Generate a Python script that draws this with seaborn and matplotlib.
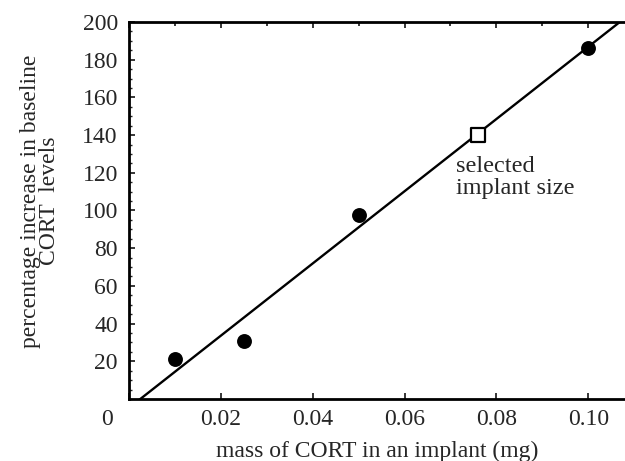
import matplotlib.pyplot as plt
import matplotlib.ticker as ticker
import matplotlib.transforms as mtransforms
import pandas as pd
import seaborn as sns

# measured implants
mass = [0.010, 0.025, 0.050, 0.100]
increase = [21, 31, 97.5, 186]

# chosen implant
selected_mass = [0.076]
selected_increase = [140]

x_ticks = [0, 0.02, 0.04, 0.06, 0.08, 0.10]
x_tick_labels = ["0", "0.02", "0.04", "0.06", "0.08", "0.10"]
y_ticks = [20, 40, 60, 80, 100, 120, 140, 160, 180, 200]

df = pd.DataFrame({"mass": mass, "increase": increase})

sns.set_style("ticks")
plt.rcParams["font.family"] = ["Liberation Serif", "DejaVu Serif"]
plt.rcParams["font.size"] = 17

fig = plt.figure(figsize=(6.25, 4.61), dpi=100)
ax = fig.add_axes([0.2064, 0.1345, 0.7936, 0.8178])
ax.set_xlim(0, 0.108)
ax.set_ylim(0, 200)

sns.regplot(data=df, x="mass", y="increase", ci=None, truncate=False, ax=ax,
            color="black", marker="o",
            scatter_kws=dict(s=115, linewidths=0, alpha=1, zorder=4),
            line_kws=dict(lw=1.7))
sns.scatterplot(x=selected_mass, y=selected_increase, marker="s", s=90,
                facecolor="white", edgecolor="black", linewidth=1.6,
                ax=ax, zorder=5)

ax.text(0.0713, 129, "selected\nimplant size", ha="left", va="top",
        fontsize=17.5, linespacing=1.1)

ax.set_xticks(x_ticks)
ax.set_xticklabels(x_tick_labels)
ax.xaxis.set_minor_locator(ticker.MultipleLocator(0.01))
ax.set_yticks(y_ticks)
ax.yaxis.set_minor_locator(ticker.MultipleLocator(5))

ax.tick_params(which="major", direction="in", length=4, width=1.3,
               top=True, bottom=True, left=True, right=False, labelsize=17)
ax.tick_params(axis="x", which="major", pad=7)
ax.tick_params(axis="y", which="major", pad=8)
ax.tick_params(axis="x", which="minor", direction="in", length=3, width=1.3,
               top=True, bottom=False)
ax.tick_params(axis="y", which="minor", direction="in", length=2.5, width=1,
               left=True, right=False)

# origin label sits left of the corner
lbl0 = ax.get_xticklabels()[0]
lbl0.set_transform(lbl0.get_transform() +
                   mtransforms.ScaledTranslation(-16 / 72, 0, fig.dpi_scale_trans))

for side in ["left", "bottom", "top"]:
    ax.spines[side].set_linewidth(2)
    ax.spines[side].set_color("black")
ax.spines["right"].set_visible(False)

ax.set_xlabel("mass of CORT in an implant (mg)", fontsize=17, labelpad=8)
ax.set_ylabel("percentage increase in baseline\nCORT  levels", fontsize=17,
              linespacing=0.9, labelpad=16)
ax.yaxis.label.set_y(0.525)

fig.savefig("out.png", dpi=100)
